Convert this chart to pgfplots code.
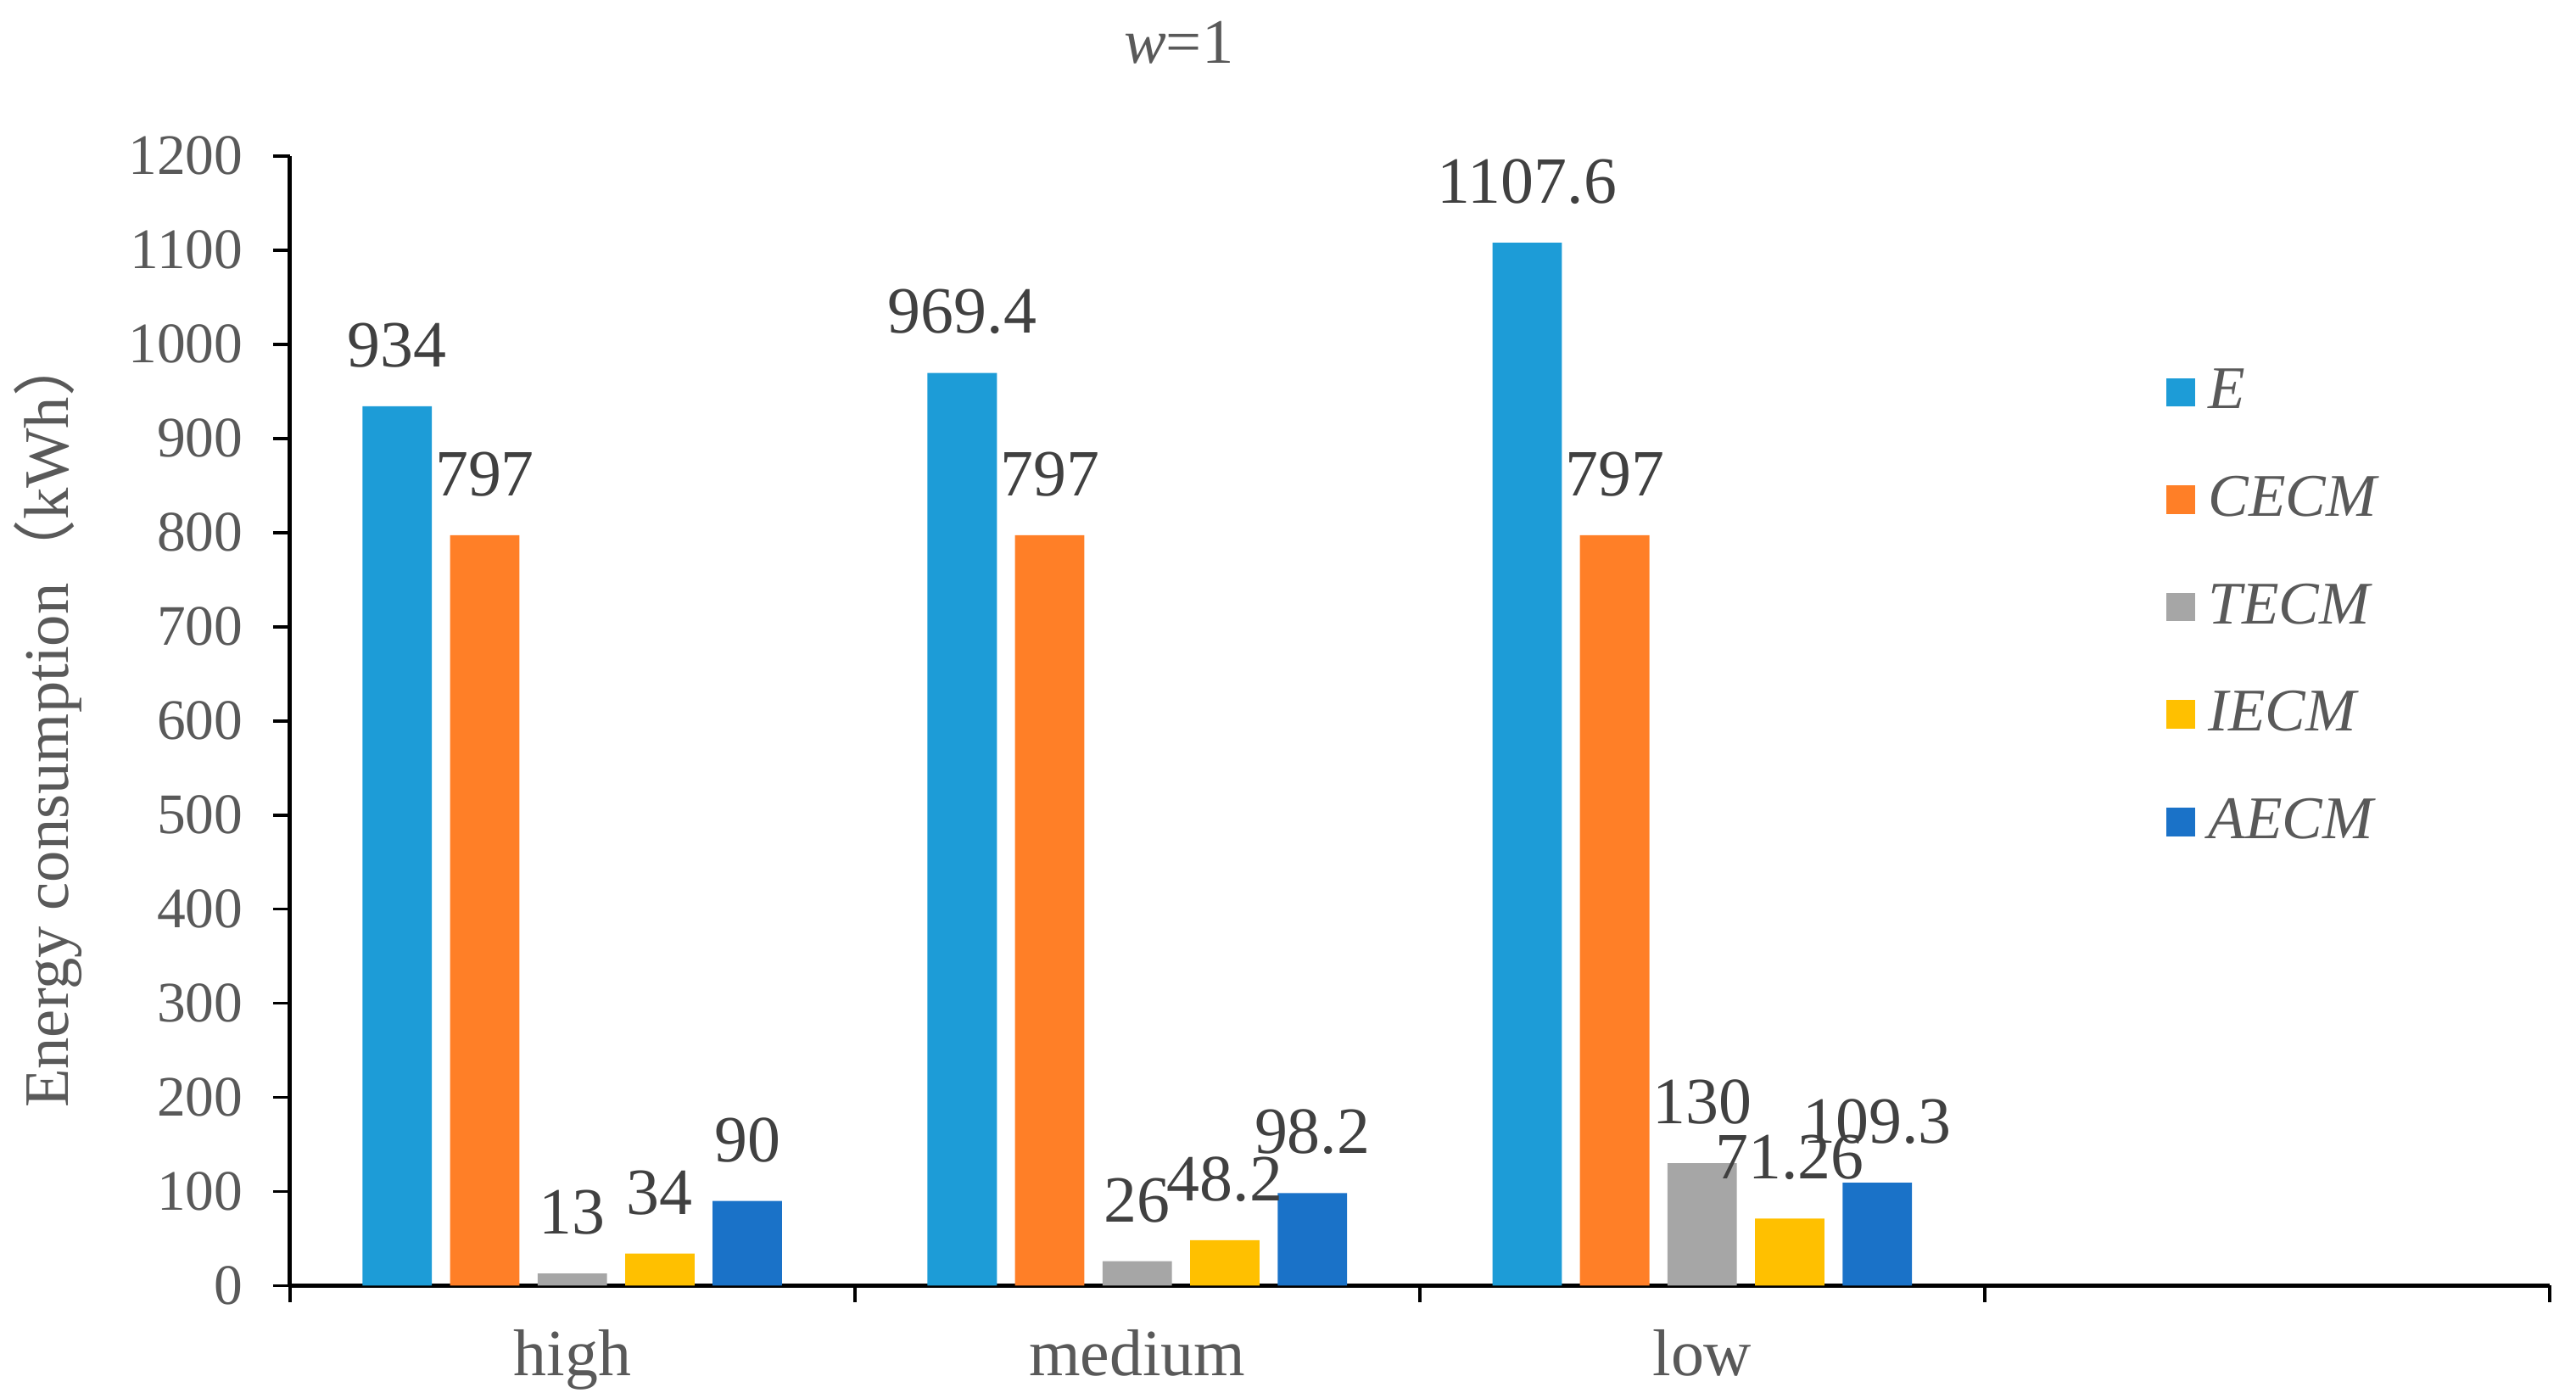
\documentclass[border=0pt]{standalone}
\usepackage{fontspec}
\setmainfont{Liberation Serif}
\newfontfamily\cjk{Noto Sans CJK SC}
\usepackage{pgfplots}
\pgfplotsset{compat=1.18}
\usepackage{pgfplotstable}

\definecolor{cE}{RGB}{29,156,215}
\definecolor{cCECM}{RGB}{255,127,39}
\definecolor{cTECM}{RGB}{166,166,166}
\definecolor{cIECM}{RGB}{255,192,0}
\definecolor{cAECM}{RGB}{26,114,200}
\definecolor{txt}{RGB}{89,89,89}
\definecolor{lbl}{RGB}{64,64,64}

% load level: high, medium, low
\pgfplotstableread{
x E CECM TECM IECM AECM
0 934 797 13 34 90
1 969.4 797 26 48.2 98.2
2 1107.6 797 130 71.26 109.3
}\energy

\begin{document}
\begin{tikzpicture}
\useasboundingbox (-52.65pt,-19.4pt) rectangle (415.3pt,233.5pt);
\begin{axis}[
  scale only axis, width=410.5pt, height=205.2pt,
  at={(0pt,0pt)}, anchor=south west,
  ybar=3.3pt, bar width=12.6pt,
  xmin=-0.5, xmax=3.5, ymin=0, ymax=1200,
  ytick distance=100,
  xtick={0,1,2}, xticklabels={high,medium,low},
  minor xtick={-0.5,0.5,1.5,2.5,3.5},
  major x tick style={draw=none},
  major tick length=3pt, minor tick length=3pt,
  tick align=outside, tick pos=left,
  axis lines*=left, axis line style={-, line width=0.8pt, black},
  tick style={line width=0.6pt, black},
  /pgf/number format/assume math mode=true,
  /pgf/number format/1000 sep={},
  yticklabel style={font=\fontsize{10.4}{12}\selectfont, text=txt, xshift=-2pt},
  xticklabel style={font=\fontsize{12}{14}\selectfont, text=txt, yshift=-1.5pt},
  title={\textit{w}=1},
  every axis title shift=0pt,
  title style={at={(0.3934,1.1004)}, anchor=center, font=\fontsize{11.5}{13}\selectfont, text=txt},
  ylabel={Energy consumption{\cjk （}kWh{\cjk ）}},
  ylabel style={at={(axis description cs:-0.107,0.5)}, anchor=center, font=\fontsize{11.5}{13}\selectfont, text=txt},
  nodes near coords,
  every node near coord/.append style={font=\fontsize{12}{14}\selectfont, text=lbl, anchor=south, yshift=3.5pt},
  clip=false,
  legend cell align=left,
  legend image code/.code={\fill[#1] (0pt,-2.6pt) rectangle (5.2pt,2.6pt);},
  legend style={at={(0.83,0.816)}, anchor=north west, draw=none, fill=none, inner sep=0pt,
    row sep=9.5pt, font=\fontsize{11}{13}\selectfont\itshape, text=txt,
    nodes={inner xsep=2.4pt, inner ysep=0pt, text height=8pt, text depth=2pt}},
]
\addplot[fill=cE, draw=none] table[x=x, y=E] {\energy};
\addplot[fill=cCECM, draw=none] table[x=x, y=CECM] {\energy};
\addplot[fill=cTECM, draw=none] table[x=x, y=TECM] {\energy};
\addplot[fill=cIECM, draw=none] table[x=x, y=IECM] {\energy};
\addplot[fill=cAECM, draw=none] table[x=x, y=AECM] {\energy};
\legend{E, CECM, TECM, IECM, AECM}
\end{axis}
\end{tikzpicture}
\end{document}
